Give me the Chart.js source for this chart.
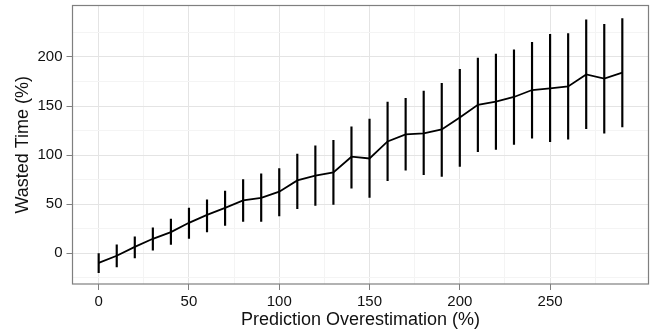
<!DOCTYPE html>
<html>
<head>
<meta charset="utf-8">
<script src="https://cdn.jsdelivr.net/npm/chart.js@4"></script>
<style>
  html, body { margin: 0; padding: 0; background: #fff; }
  #wrap { width: 654px; height: 331px; }
</style>
</head>
<body>
<div id="wrap"><canvas id="chart"></canvas></div>
<script>
// prediction overestimation (%)
const overestimation = [0, 10, 20, 30, 40, 50, 60, 70, 80, 90, 100, 110, 120, 130, 140,
  150, 160, 170, 180, 190, 200, 210, 220, 230, 240, 250, 260, 270, 280, 290];
// mean wasted time (%)
const wastedMean = [-10, -2.7, 6.4, 14.6, 21.4, 30.9, 39, 46.2, 53.7, 56.4, 62.6, 74.1, 78.9, 82.3, 98.3,
  96.5, 113.9, 121, 122, 126.1, 138.4, 151.3, 154.4, 159.2, 166.3, 168, 170, 182.2, 177.9, 184];
const wastedLow = [-20, -14, -4.8, 3, 8.8, 14.9, 21.7, 28.2, 32.3, 32.3, 37.8, 45.2, 48.6, 49.6, 66.3,
  56.7, 73.8, 84.7, 79.9, 78.2, 88.4, 103.4, 105.7, 110.8, 117.3, 113.6, 116.3, 126.8, 122.4, 128.6];
const wastedHigh = [0, 8.5, 16.6, 25.8, 34.7, 45.9, 54.4, 63.3, 75.1, 80.9, 86.3, 101, 109.5, 114.9, 128.9,
  136.7, 154, 157.8, 165.3, 173.1, 187.4, 199, 203, 207.4, 214.9, 223, 223.8, 237.8, 233.3, 239.1];

const xTicks = [0, 25, 50, 75, 100, 125, 150, 175, 200, 225, 250, 275];
const xLabels = [0, 50, 100, 150, 200, 250];
const yTicks = [-25, 0, 25, 50, 75, 100, 125, 150, 175, 200, 225];
const yLabels = [0, 50, 100, 150, 200];

const majorGrid = '#e4e4e4';
const minorGrid = '#f4f4f4';
const frameColor = '#7f7f7f';

const frame = {
  id: 'frame',
  afterDraw(chart) {
    const { ctx, chartArea: a } = chart;
    ctx.save();
    ctx.strokeStyle = frameColor;
    ctx.lineWidth = 1.2;
    ctx.strokeRect(a.left, a.top, a.right - a.left, a.bottom - a.top);
    ctx.restore();
  }
};

function gridColor(labels) {
  return ctx => labels.includes(ctx.tick && ctx.tick.value) ? majorGrid : minorGrid;
}
function tickColor(labels) {
  return ctx => labels.includes(ctx.tick && ctx.tick.value) ? frameColor : 'rgba(0,0,0,0)';
}

new Chart(document.getElementById('chart'), {
  data: {
    datasets: [
      {
        type: 'line',
        data: overestimation.map((x, i) => ({ x: x, y: wastedMean[i] })),
        borderColor: '#000',
        borderWidth: 1.8,
        pointRadius: 0,
        tension: 0,
        order: 0
      },
      {
        type: 'bar',
        data: overestimation.map((x, i) => ({ x: x, y: [wastedLow[i], wastedHigh[i]] })),
        backgroundColor: '#000',
        borderWidth: 0,
        barThickness: 1.5,
        order: 1
      }
    ]
  },
  options: {
    responsive: true,
    maintainAspectRatio: false,
    animation: false,
    layout: { padding: { top: 5.5, right: 5.5, left: 0, bottom: 0 } },
    plugins: { legend: { display: false }, tooltip: { enabled: false } },
    scales: {
      x: {
        type: 'linear',
        offset: false,
        min: -14.5,
        max: 304.5,
        afterBuildTicks: s => { s.ticks = xTicks.map(v => ({ value: v })); },
        afterFit: s => { s.height = 47; s.paddingLeft = 0; s.paddingRight = 0; },
        grid: { offset: false, color: gridColor(xLabels), tickColor: tickColor(xLabels), tickLength: 6, lineWidth: 1 },
        border: { display: false },
        ticks: {
          padding: 4,
          color: '#111',
          font: { family: 'Liberation Sans, Arial, sans-serif', size: 15, lineHeight: 1 },
          callback: v => xLabels.includes(v) ? String(v) : ''
        },
        title: {
          display: true,
          text: 'Prediction Overestimation (%)',
          color: '#111',
          padding: { top: 0, bottom: 1.5 },
          font: { family: 'Liberation Sans, Arial, sans-serif', size: 18, lineHeight: 1 }
        }
      },
      y: {
        type: 'linear',
        min: -31.5,
        max: 252.5,
        afterBuildTicks: s => { s.ticks = yTicks.map(v => ({ value: v })); },
        afterFit: s => { s.width = 72.5; s.paddingTop = 0; s.paddingBottom = 0; },
        grid: { color: gridColor(yLabels), tickColor: tickColor(yLabels), tickLength: 6, lineWidth: 1 },
        border: { display: false },
        ticks: {
          padding: 4,
          color: '#111',
          font: { family: 'Liberation Sans, Arial, sans-serif', size: 15, lineHeight: 1 },
          callback: v => yLabels.includes(v) ? String(v) : ''
        },
        title: {
          display: true,
          text: 'Wasted Time (%)',
          color: '#111',
          padding: { top: 14, bottom: 0 },
          font: { family: 'Liberation Sans, Arial, sans-serif', size: 18, lineHeight: 1 }
        }
      }
    }
  },
  plugins: [frame]
});
</script>
</body>
</html>
